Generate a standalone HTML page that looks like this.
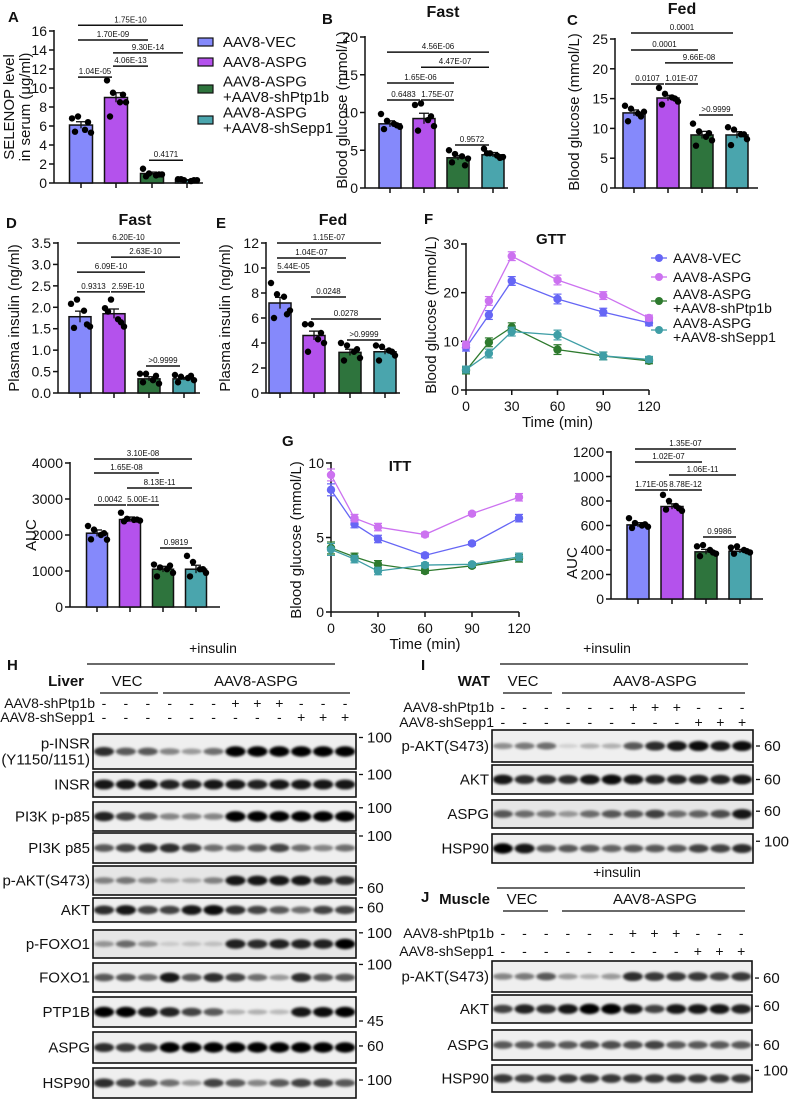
<!DOCTYPE html>
<html><head><meta charset="utf-8">
<style>
html,body{margin:0;padding:0;background:#fff;}
svg{display:block;font-family:"Liberation Sans",Arial,sans-serif;}
</style></head>
<body>
<svg id="fig" xmlns="http://www.w3.org/2000/svg" width="790" height="1100" viewBox="0 0 790 1100">
<defs><filter id="blur" x="-50%" y="-80%" width="200%" height="260%"><feGaussianBlur stdDeviation="1.2"/></filter></defs>
</svg>
<script>
// ---------- DATA ----------
const groups = ["AAV8-VEC","AAV8-ASPG","AAV8-ASPG +AAV8-shPtp1b","AAV8-ASPG +AAV8-shSepp1"];
const colors = ["#8589fb","#b452ec","#2e743d","#4aa5ad"];
const lineColors = ["#6666f5","#cc72f0","#2e7a2e","#3f9ea6"];

const aMeans=[6.1,9.0,1.0,0.3]; const aSem=[0.35,0.5,0.15,0.05];
const aDots=[[6.8,7.0,5.6,5.3,5.4,6.4],[10.8,9.5,8.5,8.5,7.0,9.3],[1.5,1.0,0.8,0.9,0.7,0.9],[0.4,0.3,0.2,0.3,0.4,0.3]];
const aTicks=[0,2,4,6,8,10,12,14,16];
const aSig=[[0,3,16.6,"1.75E-10"],[0,2,15.05,"1.70E-09"],[1,3,13.7,"9.30E-14"],[1,2,12.3,"4.06E-13"],[0,1,11.15,"1.04E-05"],[2,3,2.4,"0.4171"]];

const bMeans=[8.5,9.2,4.0,4.4]; const bSem=[0.4,0.7,0.3,0.3];
const bDots=[[9.8,8.9,8.5,8.1,7.8,8.3],[11.0,11.2,9.0,8.2,7.6,9.5],[5.0,4.5,4.2,3.9,3.4,3.0],[5.2,4.6,4.3,4.1,4.6,4.0]];
const bTicks=[0,5,10,15,20];
const bSig=[[0,3,18.0,"4.56E-06"],[1,3,16.0,"4.47E-07"],[0,2,13.9,"1.65E-06"],[0,1,11.65,"0.6483"],[1,2,11.65,"1.75E-07"],[2,3,5.7,"0.9572"]];

const cMeans=[12.6,15.1,8.9,8.9]; const cSem=[0.5,0.45,0.6,0.55];
const cDots=[[13.8,13.3,12.5,12.8,11.2,12.0],[16.8,15.8,15.2,14.5,14.0,15.0],[10.8,9.5,8.6,8.0,7.1,9.2],[10.2,9.8,9.0,8.2,7.2,9.0]];
const cTicks=[0,5,10,15,20,25];
const cSig=[[0,3,26.0,"0.0001"],[0,2,23.15,"0.0001"],[1,3,21.0,"9.66E-08"],[0,1,17.45,"0.0107"],[1,2,17.45,"1.01E-07"],[2,3,12.25,">0.9999"]];

const dMeans=[1.78,1.85,0.33,0.33]; const dSem=[0.13,0.11,0.05,0.03];
const dDots=[[2.08,2.18,1.92,1.55,1.52,1.6],[1.98,2.18,1.72,1.55,1.9,1.65],[0.45,0.45,0.3,0.22,0.25,0.4],[0.42,0.38,0.35,0.3,0.25,0.4]];
const dTicks=[0,0.5,1.0,1.5,2.0,2.5,3.0,3.5];
const dSig=[[0,3,3.5,"6.20E-10"],[1,3,3.17,"2.63E-10"],[0,2,2.82,"6.09E-10"],[0,1,2.36,"0.9313"],[1,2,2.36,"2.59E-10"],[2,3,0.63,">0.9999"]];

const eMeans=[7.2,4.6,3.25,3.3]; const eSem=[0.45,0.35,0.25,0.2];
const eDots=[[8.8,7.9,7.7,6.6,6.0,6.3],[5.5,5.5,4.3,4.0,3.3,4.8],[4.0,3.8,3.3,2.8,2.6,3.5],[3.8,3.7,3.4,3.0,2.6,3.3]];
const eTicks=[0,2,4,6,8,10,12];
const eSig=[[0,3,12.0,"1.15E-07"],[0,2,10.8,"1.04E-07"],[0,1,9.68,"5.44E-05"],[1,2,7.68,"0.0248"],[1,3,5.92,"0.0278"],[2,3,4.24,">0.9999"]];

const gttTimes=[0,15,30,60,90,120];
const gttVec=[8.7,15.4,22.4,18.7,16.0,13.8];
const gttAspg=[9.3,18.3,27.5,22.6,19.4,14.8];
const gttPtp=[4.0,9.8,12.9,8.3,7.0,6.0];
const gttSepp=[4.2,7.5,12.0,11.3,7.0,6.3];
const gttSem=[0.7,0.9,0.9,1.0,0.8,0.6];
const gttYTicks=[0,10,20,30]; const timeTicks=[0,30,60,90,120];

const gttAucMeans=[2050,2430,1050,1050]; const gttAucSem=[90,70,80,110];
const gttAucDots=[[2250,2150,2000,1870,1880,2050],[2620,2450,2420,2400,2380,2430],[1180,1100,1050,950,850,1150],[1420,1250,1050,950,850,1050]];
const gttAucTicks=[0,1000,2000,3000,4000];
const gttAucSig=[[0,3,4111,"3.10E-08"],[0,2,3722,"1.65E-08"],[1,3,3305,"8.13E-11"],[0,1,2833,"0.0042"],[1,2,2833,"5.00E-11"],[2,3,1639,"0.9819"]];

const ittVec=[8.2,5.9,4.9,3.8,4.6,6.3];
const ittAspg=[9.2,6.3,5.7,5.2,6.6,7.7];
const ittPtp=[4.3,3.7,3.2,2.75,3.1,3.6];
const ittSepp=[4.2,3.55,2.75,3.15,3.2,3.7];
const ittSem=[0.4,0.25,0.25,0.15,0.12,0.25];
const ittYTicks=[0,5,10];

const ittAucMeans=[605,755,385,390]; const ittAucSem=[18,22,20,15];
const ittAucDots=[[660,620,600,590,580,610],[850,800,760,720,730,740],[430,440,400,370,350,380],[420,430,400,380,370,390]];
const ittAucTicks=[0,200,400,600,800,1000,1200];
const ittAucSig=[[0,3,1224,"1.35E-07"],[0,2,1118,"1.02E-07"],[1,3,1012,"1.06E-11"],[0,1,890,"1.71E-05"],[1,2,890,"8.78E-12"],[2,3,506,"0.9986"]];

// blot band intensities (12 lanes)
const hPInsr=[.8,.6,.6,.4,.3,.5,1,1,1,1,1,1];
const hInsr=[.9,.9,.9,.85,.85,.9,.9,.85,.9,.9,.9,.9];
const hPp85=[.85,.7,.6,.4,.4,.4,1,1,1,1,1,1];
const hP85=[.6,.7,.8,.8,.7,.5,.5,.6,.7,.5,.4,.5];
const hPAkt=[.4,.45,.35,.2,.2,.4,.9,.9,.9,.9,.8,.8];
const hAkt=[.8,.9,.7,.7,.9,.95,.8,.7,.6,.5,.7,.7];
const hPFoxo=[.3,.5,.3,.05,.1,.1,.85,.8,.85,.85,.85,1];
const hFoxo=[.6,.6,.5,.9,.6,.8,.7,.5,.3,.8,.6,.6];
const hPtp=[1,1,.9,.85,.7,.6,.2,.2,.15,.9,.95,1];
const hAspg=[.8,.75,.75,1,1,1,1,1,1,1,1,1];
const hHsp=[.8,.7,.6,.5,.3,.7,.6,.4,.6,.7,.7,.6];
const iPAkt=[.35,.45,.5,.05,.2,.2,.6,.8,.9,.95,.9,.95];
const iAkt=[.9,.8,.8,.8,.9,.95,.9,.85,.85,.85,.85,.9];
const iAspg=[.6,.5,.45,.3,.5,.6,.6,.7,.5,.55,.65,.9];
const iHsp=[1,.9,.6,.6,.6,.55,.6,.6,.6,.7,.7,.8];
const jPAkt=[.4,.45,.6,.3,.2,.3,.8,.75,.75,.75,.7,.75];
const jAkt=[.7,.85,.8,.9,1,1,.9,.7,.9,.9,.9,.85];
const jAspg=[.6,.6,.6,.6,.65,.65,.65,.7,.6,.6,.6,.6];
const jHsp=[.75,.7,.72,.75,.75,.75,.75,.75,.75,.75,.75,.75];
const shPtpSigns=["-","-","-","-","-","-","+","+","+","-","-","-"];
const shSeppSigns=["-","-","-","-","-","-","-","-","-","+","+","+"];

// ---------- HELPERS ----------
const NS="http://www.w3.org/2000/svg";
const svg=document.getElementById("fig");
function mk(tag,attrs,name,parent){
  const el=document.createElementNS(NS,tag);
  for(const k in attrs) el.setAttribute(k,attrs[k]);
  
  
  (parent||svg).appendChild(el);
  return el;
}
function txt(x,y,s,size,name,opts){
  opts=opts||{};
  const a={x:x,y:y,"font-size":size,fill:"#111"};
  if(opts.anchor)a["text-anchor"]=opts.anchor;
  if(opts.bold)a["font-weight"]="bold";
  if(opts.rot)a.transform="rotate(-90 "+x+" "+y+")";
  const t=mk("text",a,name,opts.parent);
  t.textContent=s;
  return t;
}
function line(x1,y1,x2,y2,name,w,col,parent){
  return mk("line",{x1:x1,y1:y1,x2:x2,y2:y2,stroke:col||"#111","stroke-width":w||1.5},name,parent);
}
const jit=[-9,-3,4,10,-6,7];

function barChart(cfg,means,sem,dots,ticks,sig){
  const g=mk("g",{},cfg.name);
  const ys=v=>cfg.y0-(v-0)*(cfg.y0-cfg.yTop)/cfg.vmax;
  line(cfg.ax,ys(ticks[ticks.length-1])-1,cfg.ax,cfg.y0,"y-axis",1.5,"#111",g);
  ticks.forEach(t=>{
    line(cfg.ax-5,ys(t),cfg.ax,ys(t),"y-tick",1.5,"#111",g);
    txt(cfg.ax-7,ys(t)+5,cfg.fmt?cfg.fmt(t):String(t),cfg.tick||14,"y-tick-label",{anchor:"end",parent:g});
  });
  line(cfg.ax,cfg.y0,cfg.xEnd,cfg.y0,"x-axis",1.5,"#111",g);
  means.forEach((m,i)=>{
    const c=cfg.cx[i];
    mk("rect",{x:c-cfg.w/2,y:ys(m),width:cfg.w,height:cfg.y0-ys(m),fill:colors[i],stroke:"#111","stroke-width":1.5},"bar-"+i,g);
    line(c,cfg.y0,c,cfg.y0+5,"x-tick",1.5,"#111",g);
    line(c,ys(m-sem[i]),c,ys(m+sem[i]),"error-bar",1.3,"#111",g);
    line(c-5,ys(m+sem[i]),c+5,ys(m+sem[i]),"error-cap",1.3,"#111",g);
    dots[i].forEach((d,k)=>{
      mk("circle",{cx:c+jit[k],cy:ys(d),r:3.2,fill:"#000"},"data-point",g);
    });
  });
  sig.forEach(s=>{
    const x1=cfg.cx[s[0]]-3,x2=cfg.cx[s[1]]-4,y=ys(s[2]);
    line(x1,y,x2,y,"significance-line",1.5,"#111",g);
    txt((x1+x2)/2,y-3,s[3],8,"p-value-label",{anchor:"middle",parent:g});
  });
  txt(cfg.titleX,cfg.titleY,cfg.ytitle,15,"y-axis-title",{anchor:"middle",rot:true,parent:g});
  if(cfg.ytitle2) txt(cfg.titleX+16,cfg.titleY,cfg.ytitle2,15,"y-axis-title",{anchor:"middle",rot:true,parent:g});
}

function lineChart(cfg,series,sem,yTicks){
  const g=mk("g",{},cfg.name);
  const ys=v=>cfg.y0-v*(cfg.y0-cfg.yTop)/cfg.vmax;
  const xs=t=>cfg.x0+t*(cfg.x1-cfg.x0)/120;
  line(cfg.x0,ys(yTicks[yTicks.length-1])-1,cfg.x0,cfg.y0,"y-axis",1.5,"#111",g);
  line(cfg.x0,cfg.y0,cfg.x1,cfg.y0,"x-axis",1.5,"#111",g);
  yTicks.forEach(t=>{
    line(cfg.x0-5,ys(t),cfg.x0,ys(t),"y-tick",1.5,"#111",g);
    txt(cfg.x0-7,ys(t)+5,String(t),14,"y-tick-label",{anchor:"end",parent:g});
  });
  timeTicks.forEach(t=>{
    line(xs(t),cfg.y0,xs(t),cfg.y0+5,"x-tick",1.5,"#111",g);
    txt(xs(t),cfg.y0+21,String(t),14,"x-tick-label",{anchor:"middle",parent:g});
  });
  series.forEach((s,si)=>{
    const col=lineColors[si];
    const pts=s.map((v,k)=>xs(gttTimes[k])+","+ys(v)).join(" ");
    mk("polyline",{points:pts,fill:"none",stroke:col,"stroke-width":1.3},"series-line-"+si,g);
    s.forEach((v,k)=>{
      const x=xs(gttTimes[k]);
      line(x,ys(v-sem[k]),x,ys(v+sem[k]),"error-bar",1.2,col,g);
      line(x-4,ys(v+sem[k]),x+4,ys(v+sem[k]),"error-cap",1.2,col,g);
      line(x-4,ys(v-sem[k]),x+4,ys(v-sem[k]),"error-cap",1.2,col,g);
      mk("circle",{cx:x,cy:ys(v),r:4.2,fill:col},"data-point",g);
    });
  });
  txt(cfg.titleX,cfg.titleY,"Blood glucose (mmol/L)",15,"y-axis-title",{anchor:"middle",rot:true,parent:g});
  txt((cfg.x0+cfg.x1)/2,cfg.y0+37,"Time (min)",15,"x-axis-title",{anchor:"middle",parent:g});
  txt(cfg.capX,cfg.capY,cfg.caption,15,"chart-title",{anchor:"middle",bold:true,parent:g});
}

function blotPanel(cfg){
  const g=mk("g",{},cfg.name);
  const lw=(cfg.bx1-cfg.bx0)/12;
  const lc=i=>cfg.bx0+lw*(i+0.5);
  txt(cfg.insX,cfg.insY,"+insulin",14,"insulin-label",{anchor:"middle",parent:g});
  line(cfg.insL0,cfg.insY+11,cfg.insL1,cfg.insY+11,"insulin-line",1.3,"#111",g);
  txt(cfg.letterX,cfg.letterY,cfg.letter,15,"panel-letter",{bold:true,parent:g});
  txt(cfg.tissueX,cfg.grpY,cfg.tissue,15,"tissue-label",{anchor:"end",bold:true,parent:g});
  txt(cfg.vecX,cfg.grpY,"VEC",15,"vec-group-label",{anchor:"middle",parent:g});
  line(cfg.vecL0,cfg.grpY+7,cfg.vecL1,cfg.grpY+7,"vec-group-line",1.3,"#111",g);
  txt(cfg.aspX,cfg.grpY,"AAV8-ASPG",15,"aspg-group-label",{anchor:"middle",parent:g});
  line(cfg.aspL0,cfg.grpY+7,cfg.aspL1,cfg.grpY+7,"aspg-group-line",1.3,"#111",g);
  txt(cfg.bx0+2,cfg.s1Y,"AAV8-shPtp1b",14,"shptp1b-label",{anchor:"end",parent:g});
  txt(cfg.bx0+2,cfg.s2Y,"AAV8-shSepp1",14,"shsepp1-label",{anchor:"end",parent:g});
  shPtpSigns.forEach((s,i)=>txt(lc(i),cfg.s1Y,s,14,"shptp1b-sign",{anchor:"middle",parent:g}));
  shSeppSigns.forEach((s,i)=>txt(lc(i),cfg.s2Y,s,14,"shsepp1-sign",{anchor:"middle",parent:g}));
  cfg.rows.forEach(r=>{
    const [y0,y1,label,vals,mw,mwf,bg]=r;
    const rg=mk("g",{},"blot-row",g);
    mk("rect",{x:cfg.bx0,y:y0,width:cfg.bx1-cfg.bx0,height:y1-y0,fill:bg||"#efefef",stroke:"#111","stroke-width":1.6},"blot-strip",rg);
    const bg2=mk("g",{filter:"url(#blur)"},"blot-bands",rg);
    const cy=(y0+y1)/2;
    vals.forEach((v,i)=>{
      mk("ellipse",{cx:lc(i),cy:cy,rx:lw*0.46,ry:2+3.2*v,fill:"#000","fill-opacity":Math.min(1,0.08+0.92*v)},"band",bg2);
    });
    const lines=label.split("|");
    lines.forEach((L,k)=>txt(cfg.bx0-3,cy+5+(k-(lines.length-1)/2)*16,L,15,"blot-label",{anchor:"end",parent:rg}));
    const my=y0+(y1-y0)*mwf;
    line(cfg.bx1+3,my,cfg.bx1+7,my,"mw-tick",1.3,"#111",rg);
    txt(cfg.bx1+11,my+5,mw,15,"mw-label",{parent:rg});
  });
}

// ---------- CHARTS ----------
const fmt1=t=>t.toFixed(1);
barChart({name:"chart-a-selenop",ax:54,y0:183,yTop:31,vmax:16,cx:[81,116,152,187],w:23,xEnd:203,titleX:14,titleY:107,ytitle:"SELENOP level",ytitle2:"in serum (μg/ml)"},aMeans,aSem,aDots,aTicks,aSig);
barChart({name:"chart-b-fast-glucose",ax:365,y0:188,yTop:37,vmax:20,cx:[390,424,458,493],w:22,xEnd:508,titleX:347,titleY:110,ytitle:"Blood glucose (mmol/L)"},bMeans,bSem,bDots,bTicks,bSig);
barChart({name:"chart-c-fed-glucose",ax:615,y0:188,yTop:39,vmax:25,cx:[634,668,702,737],w:22,xEnd:758,titleX:579,titleY:112,ytitle:"Blood glucose (mmol/L)"},cMeans,cSem,cDots,cTicks,cSig);
barChart({name:"chart-d-fast-insulin",ax:58,y0:393,yTop:243,vmax:3.5,cx:[80,114,149,184],w:22,xEnd:200,titleX:19,titleY:318,ytitle:"Plasma insulin (ng/ml)",fmt:fmt1},dMeans,dSem,dDots,dTicks,dSig);
barChart({name:"chart-e-fed-insulin",ax:266,y0:393,yTop:243,vmax:12,cx:[280,314,350,385],w:22,xEnd:400,titleX:230,titleY:318,ytitle:"Plasma insulin (ng/ml)"},eMeans,eSem,eDots,eTicks,eSig);
barChart({name:"chart-gtt-auc",ax:70,y0:607,yTop:463,vmax:4000,cx:[97,130,163,196],w:21,xEnd:220,titleX:36,titleY:535,ytitle:"AUC",tick:14},gttAucMeans,gttAucSem,gttAucDots,gttAucTicks,gttAucSig);
barChart({name:"chart-itt-auc",ax:611,y0:599,yTop:452,vmax:1200,cx:[638,672,706,740],w:22,xEnd:763,titleX:577,titleY:563,ytitle:"AUC",tick:14},ittAucMeans,ittAucSem,ittAucDots,ittAucTicks,ittAucSig);

lineChart({name:"chart-f-gtt",x0:466,x1:649,y0:390,yTop:244,vmax:30,titleX:436,titleY:315,capX:551,capY:244,caption:"GTT"},[gttVec,gttAspg,gttPtp,gttSepp],gttSem,gttYTicks);
lineChart({name:"chart-g-itt",x0:331,x1:519,y0:612,yTop:463,vmax:10,titleX:301,titleY:540,capX:400,capY:471,caption:"ITT"},[ittVec,ittAspg,ittPtp,ittSepp],ittSem,ittYTicks);

txt(8,22,"A",15,"panel-letter-a",{bold:true});
txt(322,24,"B",15,"panel-letter-b",{bold:true});
txt(567,25,"C",15,"panel-letter-c",{bold:true});
txt(6,228,"D",15,"panel-letter-d",{bold:true});
txt(216,228,"E",15,"panel-letter-e",{bold:true});
txt(424,224,"F",15,"panel-letter-f",{bold:true});
txt(282,446,"G",15,"panel-letter-g",{bold:true});
txt(443,17,"Fast",16,"chart-title-b",{anchor:"middle",bold:true});
txt(682,14,"Fed",16,"chart-title-c",{anchor:"middle",bold:true});
txt(135,225,"Fast",16,"chart-title-d",{anchor:"middle",bold:true});
txt(333,225,"Fed",16,"chart-title-e",{anchor:"middle",bold:true});

const legA=mk("g",{},"legend-a");
const legAy=[42,62,89,120];
const legAtext=[["AAV8-VEC"],["AAV8-ASPG"],["AAV8-ASPG","+AAV8-shPtp1b"],["AAV8-ASPG","+AAV8-shSepp1"]];
legAy.forEach((y,i)=>{
  mk("rect",{x:198,y:y-4,width:15,height:8,fill:colors[i],stroke:"#111","stroke-width":1.2},"legend-swatch",legA);
  const L=legAtext[i];
  L.forEach((s,k)=>txt(223,y+5+(k-(L.length-1)/2)*15.5,s,15,"legend-entry",{parent:legA}));
});
const legF=mk("g",{},"legend-f");
const legFy=[258,277,301,330];
legFy.forEach((y,i)=>{
  line(651,y,667,y,"legend-line",1.3,lineColors[i],legF);
  mk("circle",{cx:659,cy:y,r:4,fill:lineColors[i]},"legend-marker",legF);
  const L=legAtext[i];
  L.forEach((s,k)=>txt(673,y+5+(k-(L.length-1)/2)*14,s,14,"legend-entry",{parent:legF}));
});

// ---------- BLOTS ----------
blotPanel({name:"blot-h-liver",bx0:93,bx1:356,insX:213,insY:653,insL0:87,insL1:335,letter:"H",letterX:7,letterY:670,tissue:"Liver",tissueX:84,grpY:686,vecX:127,vecL0:100,vecL1:158,aspX:256,aspL0:163,aspL1:350,s1Y:708,s2Y:722,
 rows:[[734,769,"p-INSR|(Y1150/1151)",hPInsr,"100",0.1],[772,797,"INSR",hInsr,"100",0.1],[802,831,"PI3K p-p85",hPp85,"100",0.2],[833,863,"PI3K p85",hP85,"100",0.1],[866,895,"p-AKT(S473)",hPAkt,"60",0.75,"#e6e6e6"],[898,922,"AKT",hAkt,"60",0.4],[930,958,"p-FOXO1",hPFoxo,"100",0.1,"#e6e6e6"],[963,992,"FOXO1",hFoxo,"100",0.05],[997,1027,"PTP1B",hPtp,"45",0.8],[1032,1063,"ASPG",hAspg,"60",0.45],[1068,1098,"HSP90",hHsp,"100",0.4]]});
blotPanel({name:"blot-i-wat",bx0:492,bx1:753,insX:607,insY:653,insL0:500,insL1:748,letter:"I",letterX:421,letterY:670,tissue:"WAT",tissueX:490,grpY:686,vecX:523,vecL0:503,vecL1:552,aspX:655,aspL0:562,aspL1:745,s1Y:712,s2Y:727,
 rows:[[730,762,"p-AKT(S473)",iPAkt,"60",0.5],[765,794,"AKT",iAkt,"60",0.5],[800,828,"ASPG",iAspg,"60",0.4,"#e6e6e6"],[834,863,"HSP90",iHsp,"100",0.25]]});
blotPanel({name:"blot-j-muscle",bx0:492,bx1:752,insX:617,insY:877,insL0:497,insL1:745,letter:"J",letterX:421,letterY:902,tissue:"Muscle",tissueX:490,grpY:904,vecX:522,vecL0:503,vecL1:548,aspX:655,aspL0:562,aspL1:745,s1Y:938,s2Y:956,
 rows:[[961,992,"p-AKT(S473)",jPAkt,"60",0.55],[995,1023,"AKT",jAkt,"60",0.4],[1030,1060,"ASPG",jAspg,"60",0.5],[1065,1092,"HSP90",jHsp,"100",0.2]]});
</script>
</body></html>
